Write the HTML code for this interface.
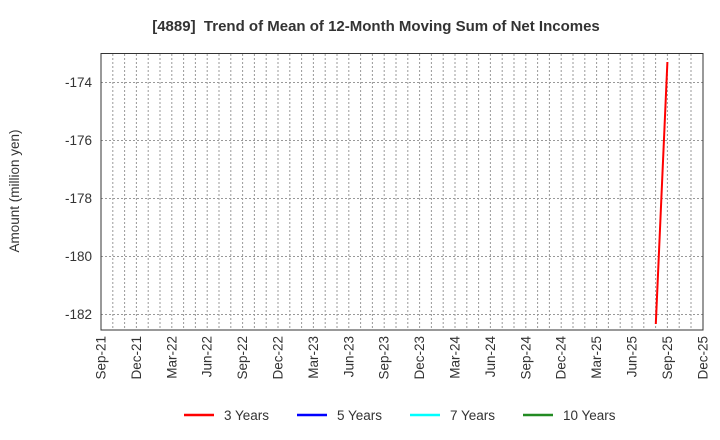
<!DOCTYPE html>
<html><head><meta charset="utf-8"><style>body{margin:0;background:#fff}svg{display:block}text{font-family:"Liberation Sans",Arial,sans-serif;fill:#333}</style></head>
<body>
<svg width="720" height="440" xmlns="http://www.w3.org/2000/svg">
<text x="376" y="31" text-anchor="middle" font-size="15" font-weight="bold">[4889]&#160; Trend of Mean of 12-Month Moving Sum of Net Incomes</text>
<path stroke="#999" stroke-width="1" stroke-dasharray="2,2" fill="none" d="M112.8 54V330M124.6 54V330M136.4 54V330M148.2 54V330M160 54V330M171.8 54V330M183.6 54V330M195.4 54V330M207.2 54V330M219 54V330M230.8 54V330M242.6 54V330M254.4 54V330M266.2 54V330M278 54V330M289.8 54V330M301.6 54V330M313.4 54V330M325.2 54V330M337 54V330M348.8 54V330M360.6 54V330M372.4 54V330M384.2 54V330M396 54V330M407.8 54V330M419.6 54V330M431.4 54V330M443.2 54V330M455 54V330M466.8 54V330M478.6 54V330M490.4 54V330M502.2 54V330M514 54V330M525.8 54V330M537.6 54V330M549.4 54V330M561.2 54V330M573 54V330M584.8 54V330M596.6 54V330M608.4 54V330M620.2 54V330M632 54V330M643.8 54V330M655.6 54V330M667.4 54V330M679.2 54V330M691 54V330M101 82.5H703M101 140.5H703M101 198.5H703M101 256.5H703M101 314.5H703"/>
<rect x="101" y="53.5" width="602" height="276.5" fill="none" stroke="#333" stroke-width="1"/>
<g font-size="13.5" text-anchor="end">
<text x="92" y="87">-174</text><text x="92" y="145">-176</text><text x="92" y="203">-178</text><text x="92" y="261">-180</text><text x="92" y="319">-182</text>
</g>
<text transform="translate(19,191) rotate(-90)" font-size="13.5" text-anchor="middle">Amount (million yen)</text>
<g font-size="13.5" text-anchor="end">
<text transform="translate(105.5,336) rotate(-90)">Sep-21</text>
<text transform="translate(140.9,336) rotate(-90)">Dec-21</text>
<text transform="translate(176.3,336) rotate(-90)">Mar-22</text>
<text transform="translate(211.7,336) rotate(-90)">Jun-22</text>
<text transform="translate(247.1,336) rotate(-90)">Sep-22</text>
<text transform="translate(282.5,336) rotate(-90)">Dec-22</text>
<text transform="translate(317.9,336) rotate(-90)">Mar-23</text>
<text transform="translate(353.3,336) rotate(-90)">Jun-23</text>
<text transform="translate(388.7,336) rotate(-90)">Sep-23</text>
<text transform="translate(424.1,336) rotate(-90)">Dec-23</text>
<text transform="translate(459.5,336) rotate(-90)">Mar-24</text>
<text transform="translate(494.9,336) rotate(-90)">Jun-24</text>
<text transform="translate(530.3,336) rotate(-90)">Sep-24</text>
<text transform="translate(565.7,336) rotate(-90)">Dec-24</text>
<text transform="translate(601.1,336) rotate(-90)">Mar-25</text>
<text transform="translate(636.5,336) rotate(-90)">Jun-25</text>
<text transform="translate(671.9,336) rotate(-90)">Sep-25</text>
<text transform="translate(707.3,336) rotate(-90)">Dec-25</text>
</g>
<line x1="655.8" y1="324" x2="667.4" y2="62" stroke="#f00" stroke-width="2"/>
<g stroke-width="2.5">
<line x1="184" y1="415" x2="214" y2="415" stroke="#f00"/>
<line x1="297" y1="415" x2="327" y2="415" stroke="#00f"/>
<line x1="410" y1="415" x2="440" y2="415" stroke="#0ff"/>
<line x1="523" y1="415" x2="553" y2="415" stroke="#228b22"/>
</g>
<g font-size="13.5">
<text x="224" y="420">3 Years</text><text x="337" y="420">5 Years</text><text x="450" y="420">7 Years</text><text x="563" y="420">10 Years</text>
</g>
</svg>
</body></html>
